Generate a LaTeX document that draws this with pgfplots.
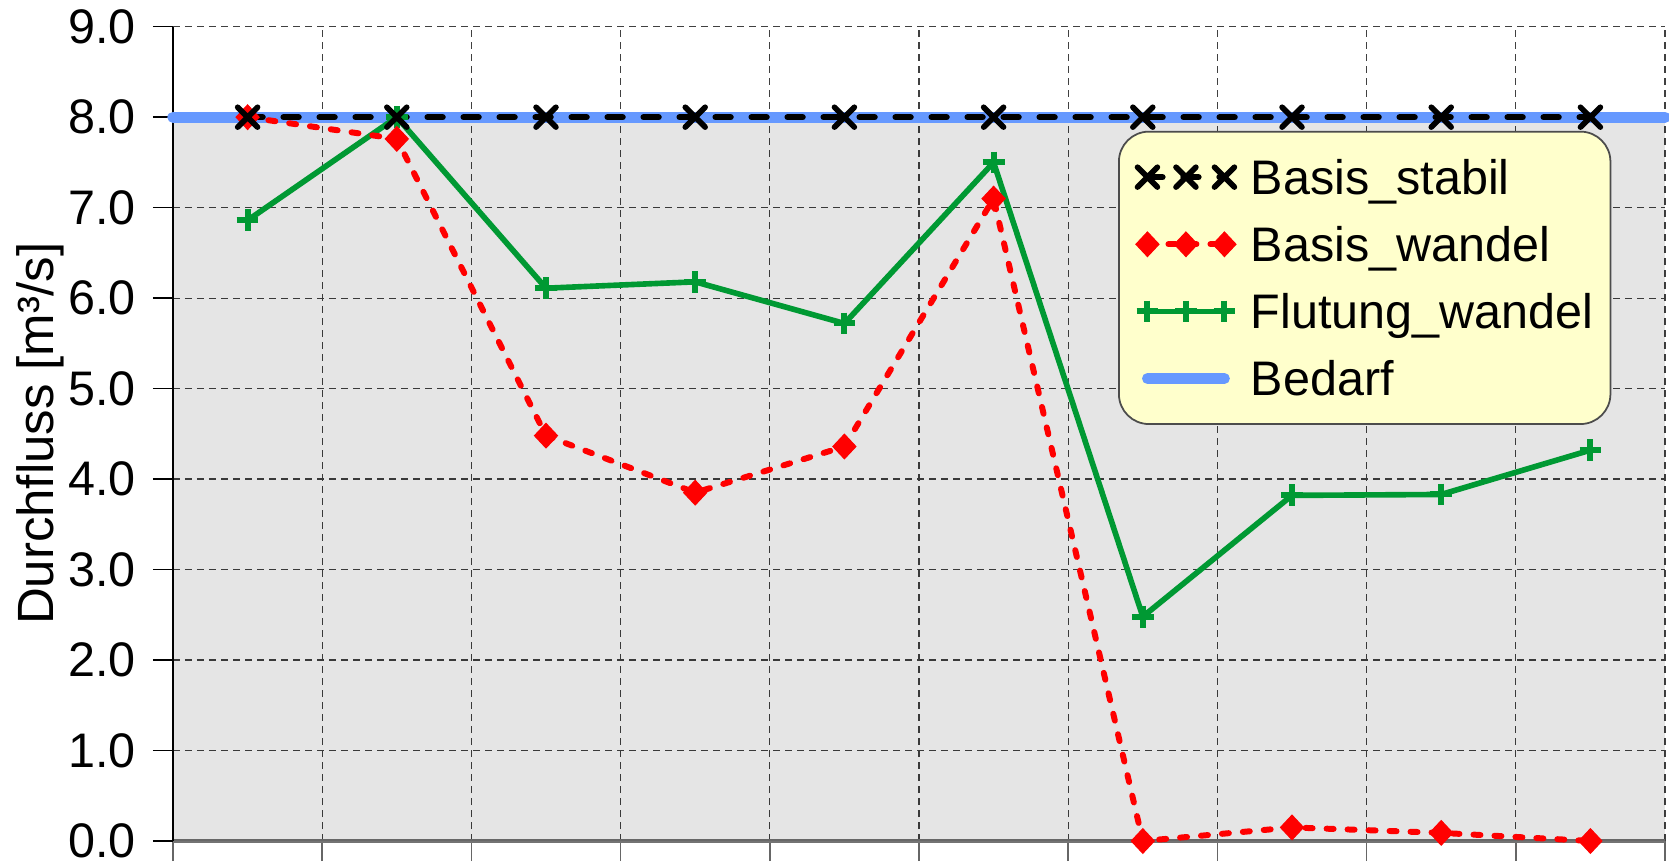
\documentclass[border=0pt]{standalone}
\usepackage{pgfplots}
\pgfplotsset{compat=1.18}
\usepackage{fontspec}
\setmainfont{Liberation Sans}

\definecolor{bedarf}{RGB}{102,153,255}
\definecolor{flut}{RGB}{0,153,51}
\definecolor{legbg}{RGB}{255,255,204}

\newcommand{\chartfont}{\fontsize{13.8}{16}\selectfont}

\pgfplotsset{
  threemarks/.style={legend image code/.code={%
      \draw[mark repeat=1,mark phase=1,##1] plot coordinates {(0cm,0cm) (0.385cm,0cm) (0.77cm,0cm)};}},
  stabil/.style={black, line width=1.8pt, line cap=round, dash pattern=on 0.15cm off 0.21cm,
      mark=x, mark size=4.0pt, mark options={solid, line width=1.6pt}},
  wandel/.style={red, line width=1.7pt, line cap=round, dash pattern=on 0.07cm off 0.14cm,
      mark=diamond*, mark size=3.5pt, mark options={solid, line width=0.3pt, xscale=1.25}},
  flutung/.style={flut, line width=1.6pt,
      mark=+, mark size=3.1pt, mark options={solid, line width=1.7pt}},
}

\begin{document}
\begin{tikzpicture}
\begin{axis}[
  name=ax,
  scale only axis,
  width=14.92cm, height=8.143cm,
  xmin=0, xmax=10, ymin=0, ymax=9,
  xtick={0,1,...,10}, xticklabels={},
  ytick={0,1,...,9},
  y tick label style={/pgf/number format/fixed, /pgf/number format/fixed zerofill,
    /pgf/number format/precision=1, /pgf/number format/assume math mode=true,
    xshift=-0.05cm},
  axis x line*=bottom, axis y line*=left,
  tick align=outside, major tick length=0.2cm,
  grid=major,
  major grid style={black!75, line width=0.35pt, dash pattern=on 0.07cm off 0.05cm},
  x axis line style={black!55, line width=0.9pt},
  y axis line style={black, line width=0.4pt},
  xtick style={black!60, line width=0.5pt},
  ytick style={black, line width=0.4pt},
  tick label style={font=\chartfont},
  ylabel={Durchfluss [m³/s]},
  ylabel style={font=\fontsize{14.5}{16}\selectfont, at={(rel axis cs:-0.0804,0.5)}, anchor=base},
  clip=false,
  legend cell align=left,
  legend style={at={(axis cs:6.334,7.85)}, anchor=north west,
    fill=legbg, draw=black!70, line width=0.5pt, rounded corners=0.3cm,
    font=\chartfont, inner xsep=0.17cm, inner ysep=8pt,
    row sep=9.2pt, column sep=0.15cm,
    nodes={inner sep=0pt, text height=9.9pt, text depth=0pt}},
]
% Bedarf: grey area up to 8 with the blue line on top
\addplot[draw=none, fill=black, fill opacity=0.1, forget plot] coordinates {(0,8) (10,8)} \closedcycle;
\addplot[bedarf, line width=3.2pt, line cap=round, forget plot] coordinates {(0,8) (10,8)};

\addplot[flutung, forget plot] coordinates {
  (0.5,6.86) (1.5,8.0) (2.5,6.11) (3.5,6.18) (4.5,5.72)
  (5.5,7.50) (6.5,2.48) (7.5,3.82) (8.5,3.83) (9.5,4.32)
};
\addplot[wandel, forget plot] coordinates {
  (0.5,8.0) (1.5,7.76) (2.5,4.48) (3.5,3.85) (4.5,4.36)
  (5.5,7.10) (6.5,0.0) (7.5,0.15) (8.5,0.09) (9.5,0.0)
};
\addplot[stabil, forget plot] coordinates {
  (0.5,8) (1.5,8) (2.5,8) (3.5,8) (4.5,8)
  (5.5,8) (6.5,8) (7.5,8) (8.5,8) (9.5,8)
};

\addlegendimage{stabil, threemarks}
\addlegendentry{Basis\_stabil}
\addlegendimage{wandel, threemarks}
\addlegendentry{Basis\_wandel}
\addlegendimage{flutung, threemarks}
\addlegendentry{Flutung\_wandel}
\addlegendimage{legend image code/.code={\draw[bedarf, line width=3.1pt, line cap=round] (0.0cm,0cm) -- (0.77cm,0cm);}}
\addlegendentry{Bedarf}
\end{axis}
\pgfresetboundingbox
\path[use as bounding box] ([xshift=-1.73cm, yshift=-0.25cm]ax.south west) rectangle ([xshift=0.04cm, yshift=0.267cm]ax.north east);
\end{tikzpicture}
\end{document}
